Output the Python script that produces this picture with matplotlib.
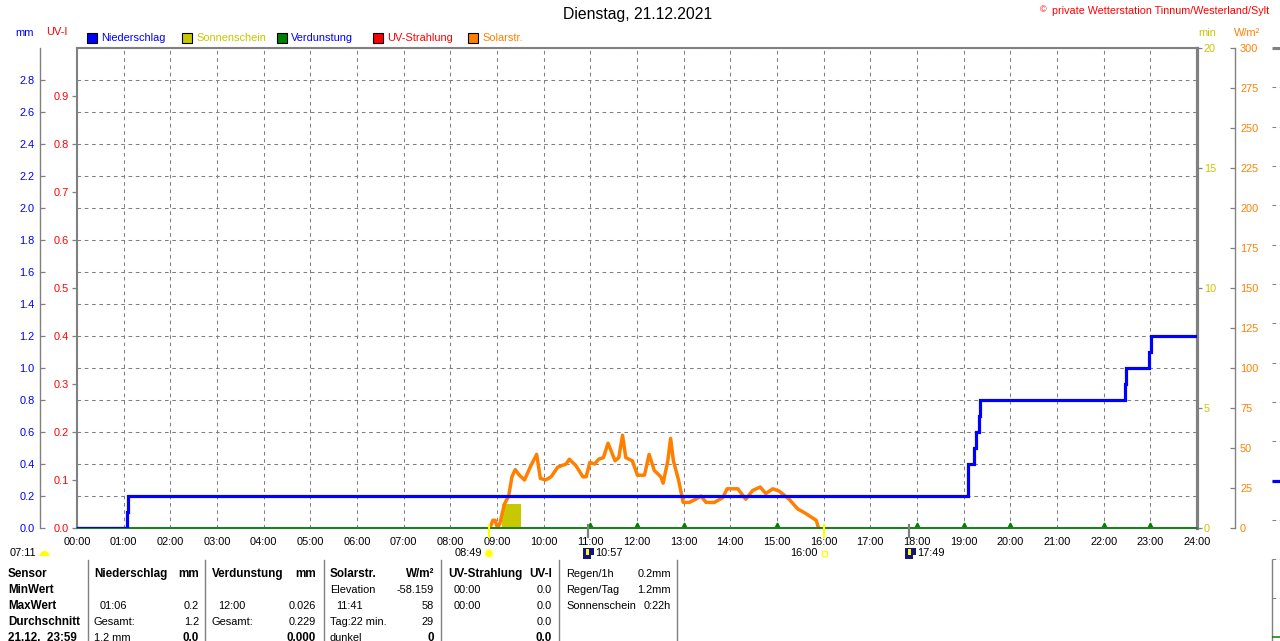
import matplotlib
matplotlib.use('Agg')
import matplotlib.pyplot as plt
from matplotlib.patches import Rectangle, Ellipse, Wedge

W, H = 1280, 641
plt.rcParams['font.family'] = ['Liberation Sans', 'DejaVu Sans']
FS = 7.95
FS_BOLD = 8.4

GREY = '#808080'
BLUE = '#0000ff'
OLIVE = '#c8c800'
GREEN = '#008000'
RED = '#ff0000'
ORANGE = '#ff8000'
YELLOW = '#ffff00'

# Niederschlag, Summe in mm
rain_t = [0, 1.08, 1.10, 19.09, 19.23, 19.26, 19.33, 19.36, 22.45, 22.47, 22.98, 23.01, 24]
rain_v = [0, 0.1, 0.2, 0.4, 0.5, 0.6, 0.7, 0.8, 0.9, 1.0, 1.1, 1.2, 1.2]

# Solarstrahlung in W/m2
solar_t = [8.85, 8.91, 8.96, 9.01, 9.06, 9.16, 9.25, 9.32, 9.39, 9.48, 9.59, 9.71, 9.85, 9.93,
           10.04, 10.16, 10.30, 10.48, 10.55, 10.69, 10.84, 10.91, 10.99, 11.09, 11.18, 11.28,
           11.38, 11.53, 11.61, 11.69, 11.76, 11.90, 12.01, 12.16, 12.26, 12.37, 12.51, 12.56,
           12.66, 12.72, 12.78, 12.89, 12.99, 13.12, 13.26, 13.37, 13.48, 13.66, 13.84, 13.93,
           14.16, 14.33, 14.48, 14.64, 14.76, 14.91, 15.05, 15.26, 15.44, 15.62, 15.84, 15.89]
solar_v = [0, 4.8, 4.8, 0, 2.7, 15, 20, 32, 36.5, 33, 30, 38, 46, 31,
           30, 32, 38, 40, 43, 39, 32, 32, 41, 40, 43, 44,
           53, 42, 44, 58, 44, 42, 33, 33, 46, 36, 32, 28,
           42, 56, 42, 30, 16, 16, 18, 20, 16, 16, 19, 24.5,
           24.5, 18, 23.5, 25.6, 21.5, 24.5, 23, 18, 12, 9, 4.8, 0]

# Sonnenschein in min
sun_start = [9.1]
sun_width = [0.42]
sun_min = [1.0]

# Verdunstung: Markierungen und Nulllinie
evap_hours = [11, 12, 13, 15, 18, 19, 20, 22, 23]
evap_t = [0, 24]
evap_v = [0, 0]

hours = list(range(25))
hour_labels = ['%02d:00' % h for h in hours]
mm_ticks = [0.0, 0.2, 0.4, 0.6, 0.8, 1.0, 1.2, 1.4, 1.6, 1.8, 2.0, 2.2, 2.4, 2.6, 2.8]
uv_ticks = [0.0, 0.1, 0.2, 0.3, 0.4, 0.5, 0.6, 0.7, 0.8, 0.9]
min_ticks = [0, 5, 10, 15, 20]
w_ticks = list(range(0, 325, 25))

legend_names = ['Niederschlag', 'Sonnenschein', 'Verdunstung', 'UV-Strahlung', 'Solarstr.']
legend_box = [BLUE, OLIVE, GREEN, RED, ORANGE]
legend_text = [BLUE, OLIVE, BLUE, RED, ORANGE]
legend_x = [87, 182, 277, 373, 468]

events = [('07:11', 10), ('08:49', 455), ('10:57', 595), ('16:00', 790), ('17:49', 917)]
event_ticks = [(8.82, YELLOW), (10.95, GREY), (16.0, YELLOW), (17.82, GREY)]

table = [
    # x, ha, bold, rows (y, text)
    (8, 'left', True, [(574, 'Sensor'), (590, 'MinWert'), (606, 'MaxWert'), (622, 'Durchschnitt'), (638, '21.12.  23:59')]),
    (94, 'left', True, [(574, 'Niederschlag')]),
    (199, 'right', True, [(574, 'mm'), (638, '0.0')]),
    (94, 'left', False, [(622, 'Gesamt:'), (638, '1.2 mm')]),
    (100, 'left', False, [(606, '01:06')]),
    (199, 'right', False, [(606, '0.2'), (622, '1.2')]),
    (212, 'left', True, [(574, 'Verdunstung')]),
    (316, 'right', True, [(574, 'mm'), (638, '0.000')]),
    (212, 'left', False, [(622, 'Gesamt:')]),
    (218, 'left', False, [(606, '12:00')]),
    (316, 'right', False, [(606, '0.026'), (622, '0.229')]),
    (330, 'left', True, [(574, 'Solarstr.')]),
    (434, 'right', True, [(574, 'W/m²'), (638, '0')]),
    (330, 'left', False, [(590, 'Elevation'), (622, 'Tag:22 min.'), (638, 'dunkel')]),
    (336, 'left', False, [(606, '11:41')]),
    (434, 'right', False, [(590, '-58.159'), (606, '58'), (622, '29')]),
    (448, 'left', True, [(574, 'UV-Strahlung')]),
    (552, 'right', True, [(574, 'UV-I'), (638, '0.0')]),
    (454, 'left', False, [(590, '00:00'), (606, '00:00')]),
    (552, 'right', False, [(590, '0.0'), (606, '0.0'), (622, '0.0')]),
    (566, 'left', False, [(574, 'Regen/1h'), (590, 'Regen/Tag'), (606, 'Sonnenschein')]),
    (671, 'right', False, [(574, '0.2mm'), (590, '1.2mm'), (606, '0:22h')]),
]
table_sep = [88, 205, 324, 441, 559, 677]


def ftext(x, y, s, color='black', ha='left', size=FS, weight='normal'):
    return fig.text(x / W, 1 - y / H, s, color=color, ha=ha, va='center', fontsize=size, fontweight=weight)


def make_axes(position, z, xlim, ylim, show=()):
    a = fig.add_axes(position, zorder=z)
    a.patch.set_visible(False)
    a.set_xlim(*xlim)
    a.set_ylim(*ylim)
    a.set_xticks([])
    a.set_yticks([])
    for name, s in a.spines.items():
        s.set_visible(name in show)
        s.set_color(GREY)
    return a


def tick_style(a, side, color, labels, ticks, direction, pad):
    a.yaxis.set_ticks_position(side)
    a.set_yticks(ticks)
    a.set_yticklabels(labels, color=color, fontsize=FS)
    a.tick_params(axis='y', color=GREY, length=3.4, width=0.9, direction=direction, pad=pad)


def box(x, y, w, h, **kw):
    kw.setdefault('linewidth', 0)
    fig.add_artist(Rectangle((x / W, 1 - (y + h) / H), w / W, h / H, transform=fig.transFigure, **kw))


fig = plt.figure(figsize=(W / 100, H / 100), dpi=100)
pos = [77 / W, (H - 528) / H, 1120 / W, 480 / H]

# Gitter ganz unten
ax_grid = make_axes(pos, 0, (0, 24), (0, 3))
ax_grid.set_xticks(hours)
ax_grid.set_yticks([i * 0.2 for i in range(16)])
ax_grid.grid(True, color=GREY, linestyle=(0, (3.5, 3.5)), linewidth=0.75)
ax_grid.tick_params(left=False, bottom=False, labelleft=False, labelbottom=False)

# Sonnenschein, rechte Achse min
ax_min = make_axes(pos, 1, (0, 24), (0, 20))
ax_min.bar(sun_start, sun_min, width=sun_width, align='edge', color=OLIVE, linewidth=0)
tick_style(ax_min, 'right', OLIVE, [str(t) for t in min_ticks], min_ticks, 'out', 1.5)

# Solarstrahlung, aeussere rechte Achse
ax_w = make_axes(pos, 2, (0, 24), (0, 300), show=['right'])
ax_w.plot(solar_t, solar_v, color=ORANGE, linewidth=2.5, solid_joinstyle='round')
ax_w.spines['right'].set_position(('outward', 37.5 * 0.72))
ax_w.spines['right'].set_linewidth(1)
tick_style(ax_w, 'right', ORANGE, [str(t) for t in w_ticks], w_ticks, 'in', 4)

# UV-Achse liegt auf dem Rahmen links
ax_uv = make_axes(pos, 3, (0, 24), (0, 1))
tick_style(ax_uv, 'left', RED, ['%.1f' % t for t in uv_ticks], uv_ticks, 'out', 2.5)

# mm-Achse links aussen
ax_mm = make_axes(pos, 4, (0, 24), (0, 3), show=['left'])
ax_mm.spines['left'].set_position(('outward', 37 * 0.72))
ax_mm.spines['left'].set_linewidth(1)
tick_style(ax_mm, 'left', BLUE, ['%.1f' % t for t in mm_ticks], mm_ticks, 'in', 4)

# Niederschlag und Verdunstung obenauf, mit Rahmen
ax = make_axes(pos, 5, (0, 24), (0, 3), show=['left', 'right', 'top', 'bottom'])
ax.plot(evap_t, evap_v, color=GREEN, linewidth=1.1, clip_on=False, zorder=3)
ax.plot(evap_hours, [0.018] * len(evap_hours), linestyle='none', marker='^', markersize=3.5, color=GREEN)
ax.step(rain_t, rain_v, where='post', color=BLUE, linewidth=2.3, solid_joinstyle='miter', zorder=4)
ax.set_xticks(hours)
ax.set_xticklabels(hour_labels, fontsize=FS)
ax.tick_params(axis='x', length=0, pad=6.5)
for s in ax.spines.values():
    s.set_linewidth(1.5)
ax.spines['right'].set_linewidth(2.3)

# Ereignisstriche unter der Achse
for t, c in event_ticks:
    ax.plot([t, t], [-0.055, 0.02], color=c, linewidth=1.6, clip_on=False, zorder=6)

# Kopf
ftext(638, 15, 'Dienstag, 21.12.2021', ha='center', size=11.3)
ftext(1040, 10, '©', color=RED, size=6.5)
ftext(1052, 11, 'private Wetterstation Tinnum/Westerland/Sylt', color=RED, size=7.75)
ftext(15, 33, 'mm', color=BLUE)
ftext(46, 32, 'UV-I', color=RED)
ftext(1198, 33, 'min', color=OLIVE)
ftext(1234, 33, 'W/m²', color=ORANGE)

for name, c_box, col, x in zip(legend_names, legend_box, legend_text, legend_x):
    box(x, 33, 10, 10, facecolor=c_box, edgecolor='black', linewidth=0.8)
    ftext(x + 14, 38, name, color=col)

# Sonnen- und Mondzeiten
for s, x in events:
    ftext(x, 553, s)
fig.add_artist(Wedge((44.5 / 100, (H - 556) / 100), 0.05, 0, 180, transform=fig.dpi_scale_trans,
                     facecolor=YELLOW, linewidth=0))
fig.add_artist(Ellipse((489 / W, 1 - 553.5 / H), 8 / W, 8 / H, transform=fig.transFigure,
                       facecolor=YELLOW, edgecolor='#ffff99', linewidth=0.8))
box(821.5, 551, 5, 5, facecolor='white', edgecolor=YELLOW, linewidth=0.9)
for x in [583, 905]:
    box(x, 548, 11, 11, facecolor='#14147a')
    box(x + 3, 549, 3, 6, facecolor=YELLOW)
    box(x + 8, 555, 3, 4, facecolor='white')

# Tabelle unten
for x, ha, bold, rows in table:
    for y, s in rows:
        if bold:
            ftext(x, y, s, ha=ha, weight='bold', size=FS_BOLD)
        else:
            ftext(x, y, s, ha=ha)
for x in table_sep:
    fig.add_artist(plt.Line2D([x / W, x / W], [1 - 560 / H, 0], color=GREY, linewidth=1))

# abgeschnittener zweiter Graph rechts
ax_next = make_axes([1272 / W, (H - 520) / H, 60 / W, 472 / H], 1, (0, 1), (0, 12))
ax_next.hlines(list(range(12)), 0, 1, color=GREY, linestyle=(0, (3.5, 3.5)), linewidth=0.75, clip_on=False)
ax_next.hlines([12], 0, 1, color=GREY, linewidth=2.2, clip_on=False)
ax_next.hlines([1], 0, 1, color=BLUE, linewidth=2.3)
ax_low = make_axes([1272 / W, (H - 637) / H, 60 / W, 78 / H], 1, (0, 1), (0, 2))
ax_low.vlines([0], -0.12, 2, color=GREY, linewidth=1, clip_on=False)
ax_low.hlines([2, 1], 0, 1, color=GREY, linestyle=(0, (3.5, 3.5)), linewidth=0.75, clip_on=False)
ax_low.hlines([0], 0, 1, color=GREEN, linewidth=1.1, clip_on=False)

plt.savefig('out.png', dpi=100)
